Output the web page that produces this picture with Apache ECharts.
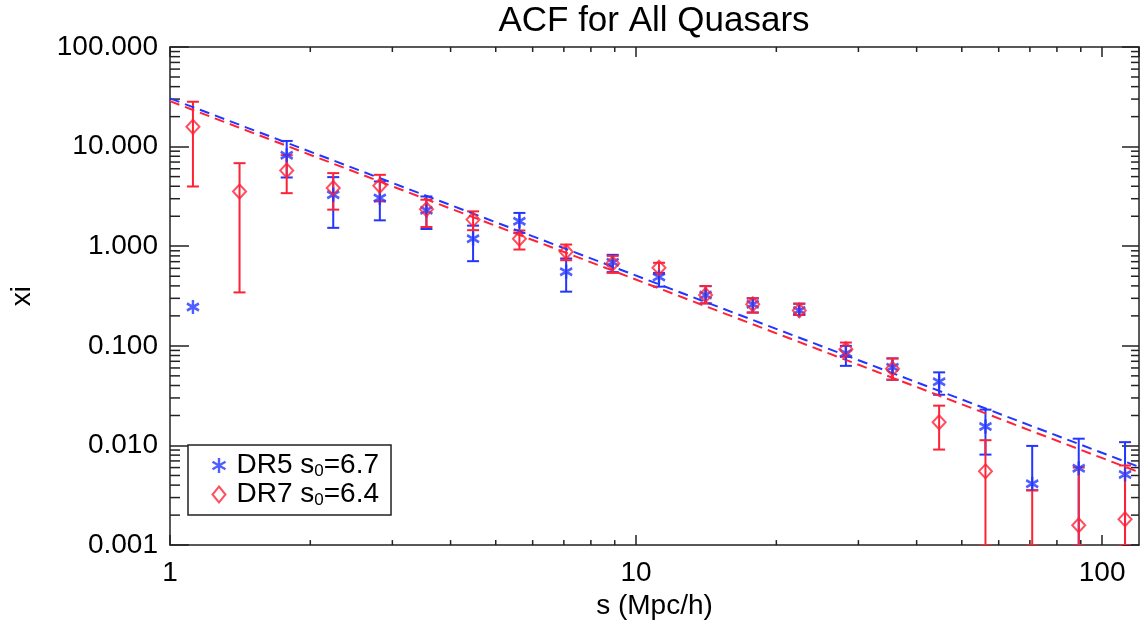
<!DOCTYPE html>
<html>
<head>
<meta charset="utf-8">
<title>ACF for All Quasars</title>
<script src="https://cdn.jsdelivr.net/npm/echarts@6.0.0/dist/echarts.min.js"></script>
<style>
  html, body { margin: 0; padding: 0; background: #fff; }
  #chart { width: 1140px; height: 625px; }
</style>
</head>
<body>
<div id="chart"></div>
<script>
  // bin centres, s in Mpc/h
  var sBins = [1.12, 1.41, 1.78, 2.24, 2.82, 3.55, 4.47, 5.62, 7.08, 8.91, 11.2,
               14.1, 17.8, 22.4, 28.2, 35.5, 44.7, 56.2, 70.8, 89.1, 112];

  // DR5 correlation function and error range
  var dr5Xi = [0.245, null, 8.2, 3.28, 3.05, 2.3, 1.19, 1.78, 0.555, 0.69, 0.49,
               0.324, 0.261, 0.227, 0.0845, 0.061, 0.0437, 0.0155, 0.00414, 0.0059, 0.0051];
  var dr5Lo = [null, null, 4.9, 1.53, 1.82, 1.49, 0.708, 1.36, 0.35, 0.55, 0.393,
               0.267, 0.216, 0.204, 0.063, 0.0457, 0.0323, 0.0081, 0.00355, 0.001, 0.001];
  var dr5Hi = [null, null, 11.4, 4.94, 4.47, 3.16, 1.61, 2.16, 0.753, 0.82, 0.54,
               0.398, 0.30, 0.265, 0.10, 0.0748, 0.0542, 0.0229, 0.0099, 0.0117, 0.0108];

  // DR7 correlation function and error range
  var dr7Xi = [15.8, 3.55, 5.75, 3.84, 4.05, 2.35, 1.85, 1.19, 0.879, 0.67, 0.608,
               0.324, 0.261, 0.227, 0.0927, 0.059, 0.0171, 0.0055, null, 0.00158, 0.00182];
  var dr7Lo = [3.98, 0.344, 3.41, 2.33, 2.82, 1.56, 1.45, 0.927, 0.724, 0.54, 0.53,
               0.267, 0.216, 0.204, 0.0776, 0.0457, 0.0091, 0.001, 0.001, 0.001, 0.001];
  var dr7Hi = [28.2, 6.82, 8.2, 5.42, 5.21, 2.93, 2.24, 1.44, 1.04, 0.80, 0.682,
               0.398, 0.30, 0.265, 0.108, 0.0748, 0.0251, 0.0113, 0.00355, 0.006, 0.0063];

  // power-law fits, end points
  var fitS = [1, 120];
  var dr5Fit = [30.5, 0.0061];
  var dr7Fit = [28.6, 0.0054];

  // minor tick values
  var xMinor = [2, 3, 4, 5, 6, 7, 8, 9, 20, 30, 40, 50, 60, 70, 80, 90];
  var yMinor = [];
  [0.001, 0.01, 0.1, 1, 10].forEach(function (d) {
    for (var k = 2; k <= 9; k++) yMinor.push(d * k);
  });

  var blue = '#2236ff', red = '#ff2236', ink = '#222';
  var font = '"Liberation Sans", Arial, Helvetica, sans-serif';
  var asterisk = 'path://M5.2,0L5.2,12M0,3L10.4,9M0,9L10.4,3';

  function pts(ys) {
    var out = [];
    for (var i = 0; i < sBins.length; i++) if (ys[i] != null) out.push([sBins[i], ys[i]]);
    return out;
  }
  function bars(lo, hi) {
    var out = [];
    for (var i = 0; i < sBins.length; i++) if (lo[i] != null) out.push([sBins[i], lo[i], hi[i]]);
    return out;
  }
  function zip(xs, ys) {
    return xs.map(function (x, i) { return [x, ys[i]]; });
  }

  function errorBar(color) {
    return function (params, api) {
      var a = api.coord([api.value(0), api.value(2)]);
      var b = api.coord([api.value(0), api.value(1)]);
      var w = 6, st = { stroke: color, lineWidth: 2 };
      return {
        type: 'group',
        children: [
          { type: 'line', shape: { x1: a[0], y1: a[1], x2: b[0], y2: b[1] }, style: st },
          { type: 'line', shape: { x1: a[0] - w, y1: a[1], x2: a[0] + w, y2: a[1] }, style: st },
          { type: 'line', shape: { x1: b[0] - w, y1: b[1], x2: b[0] + w, y2: b[1] }, style: st }
        ]
      };
    };
  }

  var tickStyle = { stroke: ink, lineWidth: 1.5 };
  function xMinorTick(params, api) {
    var p = api.coord([api.value(0), 1]);
    var cs = params.coordSys, top = cs.y, bot = cs.y + cs.height;
    return {
      type: 'group',
      children: [
        { type: 'line', shape: { x1: p[0], y1: bot, x2: p[0], y2: bot - 5 }, style: tickStyle },
        { type: 'line', shape: { x1: p[0], y1: top, x2: p[0], y2: top + 5 }, style: tickStyle }
      ]
    };
  }
  function yMinorTick(params, api) {
    var p = api.coord([1, api.value(1)]);
    var cs = params.coordSys, l = cs.x, r = cs.x + cs.width;
    return {
      type: 'group',
      children: [
        { type: 'line', shape: { x1: l, y1: p[1], x2: l + 10, y2: p[1] }, style: tickStyle },
        { type: 'line', shape: { x1: r, y1: p[1], x2: r - 8, y2: p[1] }, style: tickStyle }
      ]
    };
  }

  function isDecade(v) {
    var l = Math.log10(v);
    return Math.abs(l - Math.round(l)) < 1e-6;
  }

  var axisLine = { show: true, onZero: false, lineStyle: { color: ink, width: 1.5 } };

  var chart = echarts.init(document.getElementById('chart'), null, { renderer: 'canvas' });

  var option = {
    animation: false,
    backgroundColor: '#fff',
    title: {
      text: 'ACF for All Quasars',
      left: 649,
      top: -1,
      textAlign: 'center',
      textStyle: { fontSize: 35, fontWeight: 'normal', color: '#000', fontFamily: font }
    },
    grid: { left: 170, top: 47, width: 969, height: 500, containLabel: false },
    legend: {
      data: [
        { name: 'DR5', icon: asterisk, itemStyle: { color: 'none', borderColor: blue, borderWidth: 2.4 } },
        { name: 'DR7', icon: 'diamond', itemStyle: { color: 'none', borderColor: red, borderWidth: 2 } }
      ],
      orient: 'vertical',
      left: 188,
      top: 445,
      padding: [6, 12, 6, 22],
      itemGap: 0,
      itemWidth: 13,
      itemHeight: 16,
      borderColor: ink,
      borderWidth: 1.5,
      borderRadius: 0,
      backgroundColor: '#fff',
      selectedMode: false,
      formatter: function (name) {
        return name === 'DR5' ? '{t|DR5 s}{sub|0}{t|=6.7}' : '{t|DR7 s}{sub|0}{t|=6.4}';
      },
      textStyle: {
        padding: [0, 0, 0, 6],
        rich: {
          t: { fontSize: 28, fontFamily: font, color: '#000', lineHeight: 30 },
          sub: { fontSize: 17, fontFamily: font, color: '#000', lineHeight: 18, padding: [12, 0, 0, 0] }
        }
      }
    },
    xAxis: [
      {
        type: 'log', logBase: 10, min: 1, max: 120, position: 'bottom',
        name: 's (Mpc/h)', nameLocation: 'middle', nameGap: 40,
        nameTextStyle: { fontSize: 28, color: '#000', fontFamily: font },
        axisLine: axisLine,
        axisTick: { inside: true, length: 10, lineStyle: { color: ink, width: 1.5 } },
        axisLabel: {
          fontSize: 28, color: '#000', fontFamily: font, margin: 14,
          showMaxLabel: false,
          formatter: function (v) { return isDecade(v) ? String(Math.round(v)) : ''; }
        },
        splitLine: { show: false }
      },
      {
        type: 'log', logBase: 10, min: 1, max: 120, position: 'top',
        axisLine: axisLine,
        axisTick: { inside: true, length: 10, lineStyle: { color: ink, width: 1.5 } },
        axisLabel: { show: false },
        splitLine: { show: false }
      }
    ],
    yAxis: [
      {
        type: 'log', logBase: 10, min: 0.001, max: 100, position: 'left',
        name: 'xi', nameLocation: 'middle', nameGap: 134, nameRotate: 90,
        nameTextStyle: { fontSize: 28, color: '#000', fontFamily: font },
        axisLine: axisLine,
        axisTick: { inside: true, length: 19, lineStyle: { color: ink, width: 1.5 } },
        axisLabel: {
          fontSize: 28, color: '#000', fontFamily: font, margin: 12,
          formatter: function (v) { return v.toFixed(3); }
        },
        splitLine: { show: false }
      },
      {
        type: 'log', logBase: 10, min: 0.001, max: 100, position: 'right',
        axisLine: axisLine,
        axisTick: { inside: true, length: 17, lineStyle: { color: ink, width: 1.5 } },
        axisLabel: { show: false },
        splitLine: { show: false }
      }
    ],
    series: [
      {
        name: 'x minor ticks', type: 'custom', silent: true, clip: false,
        renderItem: xMinorTick, data: xMinor.map(function (v) { return [v, 1]; }),
        encode: { x: 0, y: 1 }
      },
      {
        name: 'y minor ticks', type: 'custom', silent: true, clip: false,
        renderItem: yMinorTick, data: yMinor.map(function (v) { return [1, v]; }),
        encode: { x: 0, y: 1 }
      },
      {
        name: 'DR5 errors', type: 'custom', silent: true, clip: true,
        renderItem: errorBar(blue), data: bars(dr5Lo, dr5Hi),
        encode: { x: 0, y: [1, 2] }, z: 3
      },
      {
        name: 'DR7 errors', type: 'custom', silent: true, clip: true,
        renderItem: errorBar(red), data: bars(dr7Lo, dr7Hi),
        encode: { x: 0, y: [1, 2] }, z: 4
      },
      {
        name: 'DR5 fit', type: 'line', data: zip(fitS, dr5Fit), showSymbol: false, clip: true,
        lineStyle: { color: blue, width: 2, type: [10, 6] }, silent: true, z: 5
      },
      {
        name: 'DR7 fit', type: 'line', data: zip(fitS, dr7Fit), showSymbol: false, clip: true,
        lineStyle: { color: red, width: 2, type: [10, 6] }, silent: true, z: 5
      },
      {
        name: 'DR5', type: 'scatter', data: pts(dr5Xi), symbol: asterisk, symbolSize: [12, 14],
        itemStyle: { color: 'none', borderColor: blue, borderWidth: 2.6 }, clip: true, z: 6
      },
      {
        name: 'DR7', type: 'scatter', data: pts(dr7Xi), symbol: 'diamond', symbolSize: [13, 14],
        itemStyle: { color: 'none', borderColor: red, borderWidth: 2 }, clip: true, z: 6
      }
    ]
  };

  chart.setOption(option);
</script>
</body>
</html>
